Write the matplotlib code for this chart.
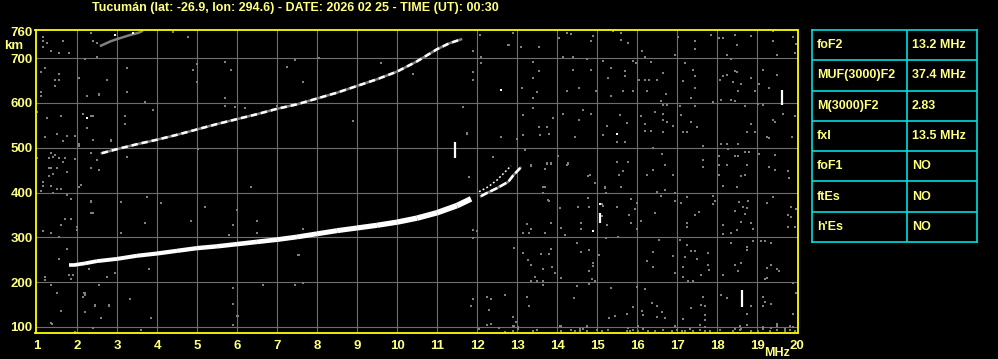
import matplotlib
matplotlib.use('Agg')
import matplotlib.pyplot as plt

# --- Figure geometry (pixels) ---
W, H = 998, 359
YELLOW = '#ffff00'
TEXT_YELLOW = '#ffff80'
GRID = '#6e6e6e'
NOISE = '#808080'
CYAN = '#00dede'
FONT = 'Liberation Sans'

title = 'Tucumán (lat: -26.9, lon: 294.6) - DATE: 2026 02 25 - TIME (UT): 00:30'

# --- Axis ticks ---
freq_ticks = list(range(1, 21))
height_ticks = [100, 200, 300, 400, 500, 600, 700, 760]
grid_freqs = list(range(2, 20))
grid_heights = [100, 200, 300, 400, 500, 600, 700]

# --- F2 trace (1 hop) ---
f2_freq = [1.8, 1.9, 2.2, 2.5, 3.0, 3.5, 4.0, 4.5, 5.0, 5.5, 6.0, 6.5, 7.0,
           7.5, 8.0, 8.5, 9.0, 9.5, 10.0, 10.5, 11.0, 11.5, 11.85]
f2_height = [238, 238, 242, 247, 252, 259, 264, 270, 276, 280, 285, 290, 295,
             301, 308, 315, 321, 327, 334, 343, 355, 371, 386]

# o-mode tail above 12 MHz and x-mode branch
o_tail_freq = [12.1, 12.2, 12.5, 12.78, 12.9, 13.08]
o_tail_height = [392, 397, 410, 424, 438, 455]
x_branch_freq = [12.05, 12.28, 12.5, 12.72, 12.85]
x_branch_height = [402, 413, 428, 448, 460]

# --- 2 hop trace ---
hop2_freq = [2.62, 3.0, 3.5, 4.0, 4.5, 5.0, 5.5, 6.0, 6.5, 7.0, 7.5, 8.0,
             8.5, 9.0, 9.5, 10.0, 10.5, 11.0, 11.3, 11.6]
hop2_height = [488, 497, 508, 518, 529, 541, 553, 564, 575, 587, 597, 610,
               623, 638, 653, 670, 693, 720, 733, 742]

# --- 3 hop fragment ---
hop3_freq = [2.6, 2.85, 3.05, 3.3, 3.55, 3.62]
hop3_height = [728, 738, 744, 751, 757, 760]

# --- White vertical echoes: freq, low, high ---
bar_freq = [11.45, 19.62, 18.62, 15.08]
bar_low = [478, 595, 144, 331]
bar_high = [513, 630, 182, 354]

# --- isolated white pixels ---
white_f = [12.6, 15.5, 14.9, 2.25, 15.08, 3.4, 2.95]
white_h = [629, 531, 314, 567, 375, 756, 752]

# --- grey noise pixels ---
noise_f = [
    12.78, 12.9, 13.1, 13.55, 13.55, 13.4, 13.4, 13.12, 13.5, 13.4, 13.4, 13.15,
    13.55, 13.75, 13.15, 13.57, 13.8, 13.9, 13.2, 13.35, 13.75, 13.85, 14.05, 14.25,
    14.35, 14.15, 14.4, 14.4, 14.25, 14.55, 14.15, 14.65, 14.55, 14.85, 14.45, 14.03,
    14.28, 14.83, 14.9, 14.85, 14.75, 14.85, 14.97, 15.4, 15.6, 15.6, 15.78, 15.35,
    15.28, 15.7, 15.7, 15.65, 15.9, 15.35, 15.15, 15.57, 15.75, 15.25, 15.15, 15.5,
    15.7, 15.78, 15.5, 15.65, 15.55, 15.9, 15.98, 16.12, 16.2, 16.35, 16.05, 16.2,
    16.3, 16.5, 16.65, 16.25, 16.72, 16.6, 16.65, 16.75, 16.45, 16.65, 16.65, 16.75,
    16.9, 16.1, 16.2, 16.2, 16.35, 16.65, 16.4, 16.62, 16.7, 16.9, 16.4, 16.25,
    17.02, 17.45, 17.45, 17.85, 16.95, 17.2, 17.4, 17.45, 17.15, 17.45, 17.35, 17.07,
    17.45, 17.1, 17.35, 17.5, 17.15, 17.25, 17.65, 17.65, 17.65, 17.9, 18.05, 18.15,
    18.45, 18.85, 18.5, 18.25, 18.35, 18.45, 18.5, 18.15, 18.25, 18.08, 18.4, 18.6,
    18.52, 18.85, 18.95, 18.1, 18.35, 18.45, 18.7, 18.85, 18.75, 18.95, 18.1, 18.25,
    18.52, 18.28, 18.7, 18.8, 18.45, 18.52, 18.05, 18.05, 18.25, 18.75, 18.6, 18.7,
    18.05, 19.4, 19.9, 19.4, 19.95, 19.5, 19.15, 19.5, 19.3, 19.05, 19.03, 19.15,
    19.65, 19.95, 19.4, 19.45, 19.25, 19.3, 19.87, 19.05, 19.45, 19.3, 19.45, 19.78,
    19.8, 19.98,
    # lower right quadrant
    12.92, 13.15, 13.28, 13.35, 13.25, 13.15, 13.35, 13.3, 13.7, 13.85, 13.8, 13.65,
    13.7, 13.6, 13.8, 13.85, 13.87, 13.65, 13.95, 13.45, 13.35, 13.5, 13.65, 13.65,
    12.7, 13.25, 13.3, 12.9, 12.97, 12.92, 14.08, 14.1, 14.2, 14.52, 14.6, 14.6,
    14.78, 14.8, 14.95, 14.5, 14.6, 14.8, 14.9, 14.9, 14.8, 14.1, 14.5, 14.8,
    14.95, 14.42, 14.08, 14.75, 14.57, 15.2, 15.22, 15.6, 15.12, 15.25, 15.12, 15.22,
    15.52, 15.85, 16.0, 15.8, 15.85, 15.95, 16.0, 15.05, 14.88, 15.35, 15.45, 15.3,
    15.75, 15.9, 16.0, 15.77, 16.5, 16.7, 16.95, 16.6, 16.95, 17.1, 16.45, 16.1,
    16.55, 16.4, 16.25, 16.9, 16.4, 16.95, 16.2, 16.38, 16.5, 16.62, 16.12, 16.15,
    16.5, 16.7, 16.95, 17.07, 17.25, 17.45, 17.55, 17.25, 17.25, 17.9, 17.9, 17.95,
    17.25, 17.35, 17.45, 17.5, 17.2, 17.15, 17.15, 17.27, 17.4, 17.6, 17.78, 17.78,
    17.8, 17.65, 17.35, 17.6, 17.7, 17.7, 17.7, 17.15, 18.15, 18.5, 18.55, 18.65,
    18.75, 18.78, 18.7, 18.45, 18.15, 18.6, 18.85, 18.35, 18.5, 18.9, 18.15, 18.35,
    18.75, 18.75, 18.9, 18.6, 18.45, 18.52, 18.15, 18.1, 18.25, 18.85, 18.75, 18.75,
    18.45, 18.6, 19.1, 19.2, 19.35, 19.25, 19.5, 19.35, 19.55, 19.2, 19.4, 19.25,
    19.85, 19.78, 19.85, 19.78, 19.95, 19.98, 19.9, 19.98, 19.15, 19.2, 19.35, 19.15,
    19.9, 19.5, 19.35, 19.7, 19.82, 19.25,
    # around 12-13 MHz
    11.75, 12.4, 11.8, 12.6, 13.0, 13.2, 13.15, 13.4, 13.35, 13.7, 13.75, 13.85,
    13.65, 13.65, 13.78, 14.02, 14.25, 14.28, 14.78, 14.95, 15.2, 15.15, 15.5,
    12.1, 12.1, 12.07, 12.8, 12.6, 11.65, 11.75, 11.9, 11.9, 11.9, 12.0, 11.9,
    12.25, 12.35, 11.85, 12.3, 12.35, 12.25, 12.05, 12.55, 12.7, 12.7, 11.9, 11.9,
    # left edge
    1.15, 1.15, 1.25, 1.15, 1.35, 1.55, 1.65, 1.8, 1.1, 1.2, 1.45, 1.55,
    1.45, 1.55, 1.1, 1.1, 1.0, 1.25, 1.6, 1.2, 1.5, 1.65, 1.75, 1.95,
    2.05, 1.35, 1.4, 1.45, 1.3, 1.7, 1.55, 1.65, 1.95, 1.3, 1.35, 1.5,
    1.75, 1.3, 1.4, 1.15, 1.35, 1.4, 1.1, 1.5, 1.6, 1.75, 1.85, 2.05,
    2.1, 2.35, 2.4, 1.7, 1.85, 1.6, 2.0, 2.0, 1.15, 1.35, 1.55, 1.75,
    1.55, 1.2, 1.2, 1.8, 1.9, 1.85, 2.3, 1.35, 1.5, 1.6, 1.35, 1.95,
    2.2, 2.15, 2.2, 2.2, 2.4, 2.45, 2.55, 2.6, 2.8, 2.75, 2.05, 2.2,
    2.25, 2.55, 2.15, 2.25, 2.4, 2.4, 2.35, 2.5, 2.35, 2.55, 2.35, 2.4,
    2.5, 2.5, 2.75, 2.85, 1.0, 1.15, 2.05,
    # middle region
    5.0, 5.0, 4.9, 5.7, 5.85, 5.7, 5.7, 5.95, 6.2, 7.0, 7.25, 7.45,
    7.65, 3.9, 3.7, 3.25, 3.25, 2.75, 2.55, 2.15, 2.35, 2.25, 3.2, 3.2,
    2.85, 3.25, 5.02, 4.78, 6.5, 6.5, 7.65, 7.55, 6.65, 7.45, 7.65, 3.75,
    4.1, 3.7, 3.1, 2.35, 2.35, 3.1, 4.85, 5.2, 5.9, 6.0, 5.8, 6.35,
    3.8, 2.75, 2.95, 2.55, 2.18, 2.45, 2.8, 1.6, 2.6, 3.85, 5.9, 5.9,
    6.02, 5.9, 7.52, 3.32, 1.38, 3.6, 6.0, 4.4, 8.05, 9.6, 10.4, 8.9,
    # bottom band
    12.91, 13.03, 13.41, 13.49, 14.09, 14.34, 14.45, 14.58, 14.66, 14.76, 15.01, 15.12,
    15.28, 15.74, 15.83, 15.91, 16.03, 16.16, 16.28, 16.45, 16.66, 16.87, 16.99, 17.12,
    17.2, 17.33, 17.41, 17.58, 17.7, 17.83, 18.08, 18.41, 18.58, 18.84, 19.03, 19.16,
    19.33, 19.49, 19.7, 19.83, 19.95, 12.91, 13.03, 14.09, 14.76, 16.03, 17.58, 17.7,
    18.58, 19.16, 19.49, 19.9,
]
noise_h = [
    729, 756, 725, 725, 671, 692, 656, 633, 625, 611, 589, 573,
    546, 546, 529, 529, 531, 567, 495, 462, 464, 464, 745, 756,
    754, 703, 703, 674, 627, 633, 575, 584, 562, 575, 524, 482,
    464, 439, 750, 738, 698, 674, 627, 760, 756, 741, 734, 678,
    656, 671, 660, 627, 627, 616, 694, 573, 555, 549, 529, 513,
    513, 468, 468, 448, 439, 694, 690, 716, 703, 692, 651, 651,
    651, 651, 667, 627, 620, 604, 596, 596, 580, 575, 562, 558,
    549, 571, 553, 538, 538, 535, 500, 486, 462, 439, 450, 439,
    747, 738, 721, 752, 707, 690, 674, 660, 649, 633, 611, 593,
    593, 573, 558, 546, 535, 535, 504, 473, 457, 602, 745, 745,
    752, 750, 729, 707, 698, 671, 669, 660, 662, 651, 647, 642,
    627, 656, 627, 607, 607, 604, 593, 553, 535, 535, 508, 508,
    508, 497, 491, 491, 482, 482, 482, 462, 462, 462, 437, 439,
    439, 760, 747, 738, 712, 707, 674, 662, 633, 642, 598, 596,
    575, 571, 562, 558, 524, 522, 524, 486, 484, 457, 450, 448,
    433, 732,
    # lower right quadrant
    276, 265, 250, 238, 330, 310, 319, 310, 310, 332, 381, 399,
    413, 263, 263, 274, 234, 229, 221, 212, 203, 203, 203, 194,
    171, 167, 147, 122, 111, 102, 366, 321, 305, 368, 332, 319,
    388, 368, 421, 288, 268, 272, 243, 236, 225, 209, 192, 196,
    203, 165, 102, 102, 95, 413, 399, 413, 375, 328, 348, 299,
    301, 386, 377, 350, 332, 363, 319, 261, 207, 187, 125, 120,
    129, 145, 189, 98, 401, 406, 399, 392, 381, 377, 355, 337,
    294, 268, 247, 259, 234, 221, 185, 154, 147, 134, 136, 127,
    122, 120, 102, 294, 390, 350, 357, 332, 323, 392, 375, 381,
    283, 270, 270, 252, 256, 234, 212, 203, 203, 216, 265, 238,
    227, 167, 142, 149, 147, 127, 116, 118, 415, 413, 379, 368,
    366, 381, 352, 359, 328, 335, 332, 310, 317, 319, 308, 288,
    279, 272, 292, 243, 238, 225, 216, 171, 165, 147, 129, 105,
    95, 95, 292, 292, 288, 232, 229, 238, 225, 207, 390, 377,
    368, 350, 346, 323, 323, 363, 198, 176, 167, 156, 151, 147,
    129, 107, 98, 95, 102, 209,
    # around 12-13 MHz
    533, 480, 435, 524, 520, 495, 573, 589, 459, 453, 466, 466,
    413, 399, 383, 482, 462, 466, 437, 421, 410, 370, 368,
    703, 690, 752, 729, 524, 591, 531, 716, 669, 651, 314, 163,
    167, 163, 147, 138, 107, 105, 95, 98, 171, 89, 317, 299,
    # left edge
    747, 738, 734, 725, 716, 712, 738, 712, 669, 678, 651, 651,
    638, 665, 625, 616, 580, 567, 571, 524, 531, 515, 526, 526,
    508, 488, 480, 484, 477, 477, 477, 468, 475, 455, 455, 455,
    446, 437, 442, 415, 415, 399, 404, 408, 408, 395, 386, 413,
    417, 381, 354, 341, 341, 328, 323, 317, 314, 310, 301, 274,
    252, 212, 205, 216, 216, 207, 229, 194, 176, 136, 109, 89,
    176, 167, 171, 134, 98, 149, 194, 120, 149, 212, 656, 698,
    616, 620, 575, 544, 571, 517, 488, 473, 455, 450, 756, 738,
    734, 703, 651, 515, 477, 424, 504,
    # middle region
    687, 647, 674, 692, 674, 611, 593, 591, 589, 593, 680, 696,
    647, 584, 602, 678, 625, 651, 618, 575, 571, 544, 571, 553,
    517, 480, 497, 747, 337, 310, 319, 261, 194, 194, 198, 390,
    377, 332, 379, 379, 354, 310, 337, 368, 328, 361, 305, 413,
    229, 212, 221, 194, 176, 147, 147, 136, 120, 120, 187, 151,
    125, 105, 261, 163, 107, 93, 125, 758, 700, 690, 665, 560,
    # bottom band
    92, 95, 90, 93, 91, 94, 90, 92, 95, 91, 93, 90,
    94, 92, 90, 93, 91, 95, 92, 90, 94, 91, 93, 90,
    92, 95, 91, 93, 90, 92, 94, 91, 93, 90, 92, 95,
    91, 93, 90, 94, 92, 102, 101, 103, 100, 102, 104, 101,
    103, 100, 102, 101,
]

# --- Ionospheric parameters table ---
param_names = ['foF2', 'MUF(3000)F2', 'M(3000)F2', 'fxI', 'foF1', 'ftEs', "h'Es"]
param_values = ['13.2 MHz', '37.4 MHz', '2.83', '13.5 MHz', 'NO', 'NO', 'NO']


def fx(px):
    return px / W


def fy(py):
    return 1 - py / H


fig = plt.figure(figsize=(W / 100, H / 100), dpi=100, facecolor='black')

# --- Ionogram axes ---
ax = fig.add_axes([fx(35.5), fy(333), fx(797.5) - fx(35.5), fy(29.5) - fy(333)])
ax.set_facecolor('black')
ax.set_xlim(0.9625, 20.01)
ax.set_ylim(86.6, 764)

for f in grid_freqs:
    ax.axvline(f, color=GRID, lw=0.8, zorder=1)
for h in grid_heights:
    ax.axhline(h, color=GRID, lw=0.8, zorder=1)

for s in ax.spines.values():
    s.set_color(YELLOW)
    s.set_linewidth(1.3)
    s.set_zorder(10)

ax.set_xticks(freq_ticks)
ax.set_xticklabels([str(v) for v in freq_ticks])
ax.set_yticks(height_ticks)
ax.set_yticklabels([str(v) for v in height_ticks])
ax.tick_params(axis='both', length=0, colors=TEXT_YELLOW)
ax.tick_params(axis='x', pad=5)
ax.tick_params(axis='y', pad=2)
for lab in ax.get_xticklabels() + ax.get_yticklabels():
    lab.set_fontfamily(FONT)
    lab.set_fontweight('bold')
    lab.set_fontsize(9.5)

# noise
ax.plot(noise_f, noise_h, 's', color=NOISE, ms=2.0, mew=0, zorder=2)

# F2 trace, getting thicker with frequency
n = len(f2_freq)
for i in range(n - 1):
    lw = 2.6 + 1.5 * i / (n - 2)
    ax.plot(f2_freq[i:i + 2], f2_height[i:i + 2], color='white', lw=lw,
            solid_capstyle='butt', zorder=4)

# branches near foF2
ax.plot(o_tail_freq, o_tail_height, color=NOISE, lw=1.8, zorder=3)
ax.plot(o_tail_freq, o_tail_height, color='white', lw=1.8, dashes=(3, 1.2), zorder=4)
ax.plot(x_branch_freq, x_branch_height, color='white', lw=1.1, dashes=(1.2, 1.5), zorder=4)

# 2 hop
ax.plot(hop2_freq, hop2_height, color=NOISE, lw=1.8, zorder=3)
ax.plot(hop2_freq, hop2_height, color='white', lw=1.8, dashes=(2.5, 1.6), zorder=4)

# 3 hop fragment
ax.plot(hop3_freq, hop3_height, color=NOISE, lw=1.8, zorder=3)

# vertical echoes
ax.vlines(bar_freq, bar_low, bar_high, color='white', lw=1.6, zorder=4)
ax.plot(white_f, white_h, 's', color='white', ms=2.0, mew=0, zorder=4)

# axis unit labels
fig.text(fx(14), fy(46), 'km', color=TEXT_YELLOW, fontsize=9.5, fontweight='bold',
         family=FONT, ha='center', va='center')
fig.text(fx(790), fy(353), 'MHz', color=TEXT_YELLOW, fontsize=9, fontweight='bold',
         family=FONT, ha='right', va='center')

# title
fig.text(fx(295.5), fy(7.5), title, color=TEXT_YELLOW, fontsize=9,
         fontweight='bold', family=FONT, ha='center', va='center')

# --- Parameters table ---
tab = fig.add_axes([fx(812), fy(242), fx(977) - fx(812), fy(30) - fy(242)])
tab.set_facecolor('black')
tab.set_xlim(0, 1)
tab.set_ylim(len(param_names), 0)
tab.set_xticks([])
tab.set_yticks([])
for s in tab.spines.values():
    s.set_color(CYAN)
    s.set_linewidth(1.2)
split = (907 - 812) / (977 - 812)
tab.axvline(split, color=CYAN, lw=1.2)
for r in range(1, len(param_names)):
    tab.axhline(r, color=CYAN, lw=1.2)
for r, (name, val) in enumerate(zip(param_names, param_values)):
    tab.text(0.03, r + 0.5, name, color=TEXT_YELLOW, fontsize=9, fontweight='bold',
             family=FONT, ha='left', va='center')
    tab.text(split + 0.03, r + 0.5, val, color=TEXT_YELLOW, fontsize=9,
             fontweight='bold', family=FONT, ha='left', va='center')

fig.savefig('out.png', dpi=100, facecolor='black')
